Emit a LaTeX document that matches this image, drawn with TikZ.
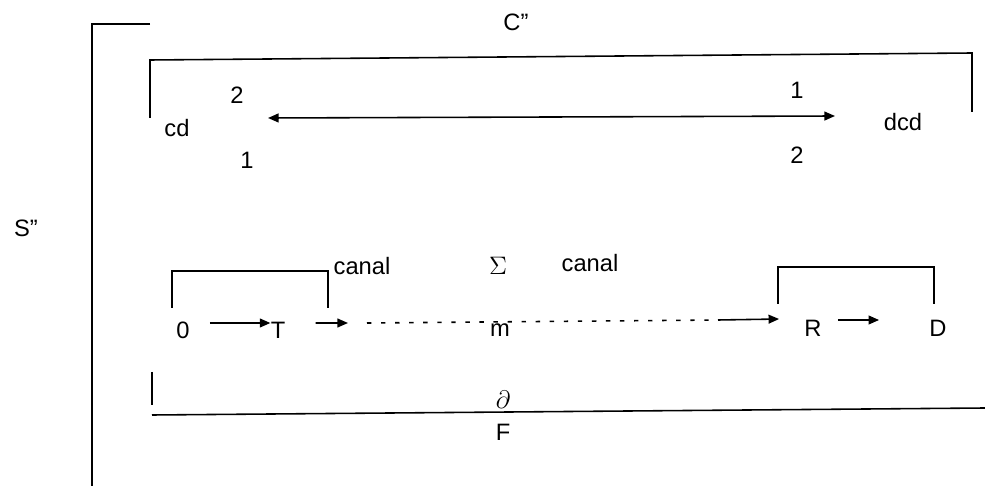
\documentclass[tikz,border=0pt]{standalone}
\usepackage{fontspec}
\setmainfont{Liberation Sans}
\usepackage{tikz}
\usetikzlibrary{arrows.meta, positioning}

\begin{document}
\begin{tikzpicture}[x=0.02cm, y=-0.02cm,
    txt/.style={inner sep=0pt, font=\fontsize{13.5}{16}\selectfont},
    line/.style={line width=0.9pt},
    arr/.style={line width=0.9pt, -{Triangle[length=6pt, width=5pt]}},
    dots/.style={line width=0.9pt, dash pattern=on 2.5pt off 5.5pt}]
    \useasboundingbox (0,0) rectangle (985,486);

    \node[txt] (S) at (26,228) {S”};
    \node[txt] (C) at (516,22) {C”};
    \draw[line] (150,24) -| (92,486);
    \draw[line] (150,118) -- (150,60) -- (972,53) -- (972,112);

    \node[txt] (cd) at (177,128) {cd};
    \node[txt] (dcd) at (903,122) {dcd};
    \node[txt] (ltop) at (237,95) {2};
    \node[txt] (lbot) at (247,160) {1};
    \node[txt] (rtop) at (797,90) {1};
    \node[txt] (rbot) at (797,155) {2};
    \coordinate (la) at (268,118);
    \coordinate (ra) at (835,116);
    \draw[arr, {Triangle[length=6pt, width=5pt]}-{Triangle[length=6pt, width=5pt]}] (la) -- (ra);

    \node[txt] (canal1) at (362,266) {canal};
    \node[txt] (sigma) at (498,266) {$\Sigma$};
    \node[txt] (canal2) at (590,263) {canal};

    \node[txt] (zero) at (183,330) {0};
    \node[txt] (T) at (278,330) {T};
    \node[txt] (m) at (500,330) {m};
    \node[txt] (R) at (813,328) {R};
    \node[txt] (D) at (938,328) {D};
    \coordinate (tout) at (348,323);
    \coordinate (dotend) at (718,320);

    \draw[line] (172,308) |- (328,271) -- (328,308);
    \draw[line] (778,304) |- (934,267) -- (934,304);

    \draw[arr] ([xshift=0.4cm, yshift=0.14cm]zero.east) -- ([yshift=0.14cm]T.west);
    \draw[arr] ([xshift=0.6cm, yshift=0.14cm]T.east) -- (tout);
    \draw[dots] ([xshift=0.38cm]tout) -- (dotend);
    \draw[arr] (dotend) -- ([xshift=-0.5cm, yshift=0.18cm]R.west);
    \draw[arr] ([xshift=0.32cm, yshift=0.16cm]R.east) -- ([xshift=-1.0cm, yshift=0.16cm]D.west);

    \node[txt] (del) at (503,400) {$\partial$};
    \node[txt] (F) at (503,432) {F};
    \draw[line] (152,372) -- (152,405);
    \draw[line] (152,415) -- (985,408);
\end{tikzpicture}
\end{document}
